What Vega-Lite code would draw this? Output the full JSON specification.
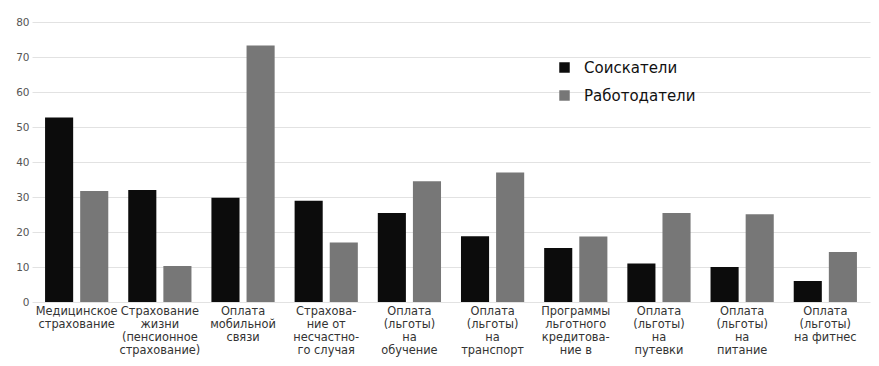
{
  "$schema": "https://vega.github.io/schema/vega-lite/v6.json",
  "autosize": {"type": "none"},
  "padding": {"left": 32, "top": 22, "right": 9, "bottom": 64},
  "width": 838,
  "height": 280,
  "background": "#ffffff",
  "data": {
    "values": [
      {"category": "Медицинское|страхование", "group": "Соискатели", "value": 52.7},
      {"category": "Медицинское|страхование", "group": "Работодатели", "value": 31.7},
      {"category": "Страхование|жизни|(пенсионное|страхование)", "group": "Соискатели", "value": 32},
      {"category": "Страхование|жизни|(пенсионное|страхование)", "group": "Работодатели", "value": 10.3},
      {"category": "Оплата|мобильной|связи", "group": "Соискатели", "value": 29.8},
      {"category": "Оплата|мобильной|связи", "group": "Работодатели", "value": 73.3},
      {"category": "Страхова-|ние от|несчастно-|го случая", "group": "Соискатели", "value": 28.9},
      {"category": "Страхова-|ние от|несчастно-|го случая", "group": "Работодатели", "value": 17},
      {"category": "Оплата|(льготы)|на|обучение", "group": "Соискатели", "value": 25.4},
      {"category": "Оплата|(льготы)|на|обучение", "group": "Работодатели", "value": 34.5},
      {"category": "Оплата|(льготы)|на|транспорт", "group": "Соискатели", "value": 18.8},
      {"category": "Оплата|(льготы)|на|транспорт", "group": "Работодатели", "value": 37},
      {"category": "Программы|льготного|кредитова-|ние в", "group": "Соискатели", "value": 15.4},
      {"category": "Программы|льготного|кредитова-|ние в", "group": "Работодатели", "value": 18.7},
      {"category": "Оплата|(льготы)|на|путевки", "group": "Соискатели", "value": 11},
      {"category": "Оплата|(льготы)|на|путевки", "group": "Работодатели", "value": 25.4},
      {"category": "Оплата|(льготы)|на|питание", "group": "Соискатели", "value": 10},
      {"category": "Оплата|(льготы)|на|питание", "group": "Работодатели", "value": 25.1},
      {"category": "Оплата|(льготы)|на фитнес", "group": "Соискатели", "value": 6},
      {"category": "Оплата|(льготы)|на фитнес", "group": "Работодатели", "value": 14.3}
    ]
  },
  "mark": {"type": "bar"},
  "encoding": {
    "x": {
      "field": "category",
      "type": "nominal",
      "sort": null,
      "scale": {"paddingInner": 0.24, "paddingOuter": 0.157},
      "axis": {
        "title": null,
        "labelAngle": 0,
        "labelExpr": "split(datum.label, '|')",
        "labelFont": "DejaVu Sans",
        "labelFontSize": 11.4,
        "labelLineHeight": 13,
        "labelColor": "#333333",
        "labelPadding": 3,
        "labelBaseline": "top",
        "ticks": false,
        "domain": false,
        "labelLimit": 200
      }
    },
    "xOffset": {
      "field": "group",
      "type": "nominal",
      "sort": ["Соискатели", "Работодатели"],
      "scale": {"paddingInner": 0.2, "paddingOuter": 0}
    },
    "y": {
      "field": "value",
      "type": "quantitative",
      "scale": {"domain": [0, 80], "nice": false},
      "axis": {
        "title": null,
        "values": [0, 10, 20, 30, 40, 50, 60, 70, 80],
        "labelFont": "DejaVu Sans",
        "labelFontSize": 10.5,
        "labelColor": "#555555",
        "labelPadding": 3,
        "ticks": false,
        "domain": false,
        "grid": true,
        "gridColor": "#e2e2e2",
        "gridWidth": 1
      }
    },
    "color": {
      "field": "group",
      "type": "nominal",
      "sort": ["Соискатели", "Работодатели"],
      "scale": {"domain": ["Соискатели", "Работодатели"], "range": ["#0c0c0c", "#777777"]},
      "legend": {
        "title": null,
        "orient": "none",
        "legendX": 525,
        "legendY": 38,
        "symbolType": "square",
        "symbolSize": 110,
        "symbolStrokeWidth": 0,
        "labelFont": "DejaVu Sans",
        "labelFontSize": 15,
        "labelColor": "#111111",
        "labelOffset": 12,
        "rowPadding": 12
      }
    }
  },
  "config": {"view": {"stroke": null}}
}
